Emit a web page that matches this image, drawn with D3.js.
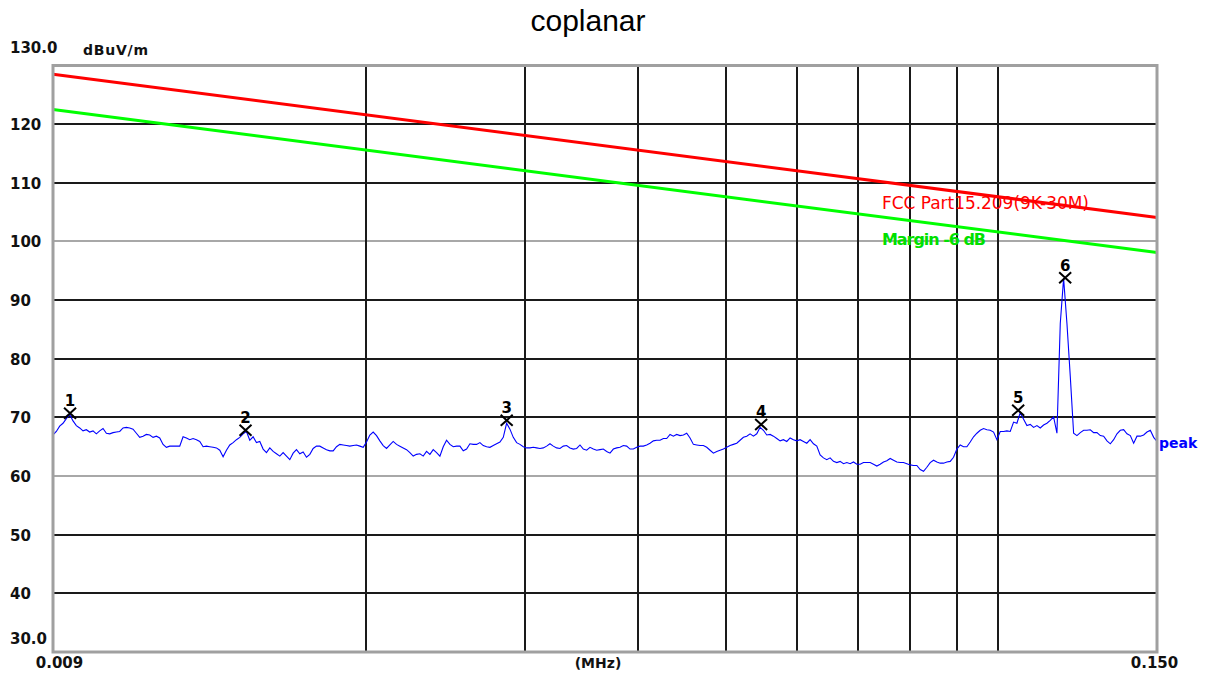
<!DOCTYPE html>
<html>
<head>
<meta charset="utf-8">
<script src="https://cdn.jsdelivr.net/npm/d3@7"></script>
<style>
body { margin: 0; background: #fff; }
svg { display: block; }
</style>
</head>
<body>
<div id="chart"></div>
<script>
// sweep of the receiver (MHz) and the peak trace (dBuV/m)
var sweepStart = 0.009, sweepStop = 0.150;
var peakLevels = [
    67.0, 67.6, 68.5, 69.0, 69.8, 70.5, 69.4, 68.6, 68.2, 67.7,
    67.9, 67.5, 67.7, 67.2, 67.7, 68.1, 67.3, 67.2, 67.4, 67.5,
    67.6, 68.2, 68.3, 68.2, 68.0, 67.3, 66.6, 66.8, 67.1, 67.0,
    66.6, 66.8, 66.5, 65.4, 64.9, 65.1, 65.1, 65.1, 65.1, 66.7,
    66.5, 66.2, 66.4, 66.2, 65.9, 65.0, 65.1, 65.0, 64.9, 64.8,
    64.4, 63.3, 64.4, 65.3, 65.7, 66.2, 66.6, 67.2, 67.6, 66.1,
    66.7, 65.7, 65.9, 64.6, 64.0, 64.8, 64.2, 63.8, 63.4, 64.0,
    63.4, 62.8, 63.9, 64.5, 63.8, 64.1, 63.2, 63.7, 64.7, 65.1,
    65.1, 64.8, 64.5, 64.3, 64.3, 65.0, 65.4, 65.3, 65.2, 65.1,
    65.2, 65.3, 65.1, 64.9, 65.8, 67.0, 67.5, 66.9, 66.0, 65.2,
    64.7, 65.3, 65.9, 65.4, 65.1, 64.8, 64.5, 64.0, 63.4, 63.7,
    63.8, 63.4, 64.2, 63.7, 64.5, 64.0, 63.4, 65.0, 66.1, 65.4,
    65.0, 65.1, 65.1, 64.3, 64.6, 65.5, 65.4, 65.4, 65.7, 65.2,
    65.0, 64.9, 65.2, 65.5, 65.8, 66.6, 69.0, 68.0, 66.6, 65.7,
    65.4, 65.0, 64.8, 64.8, 64.9, 64.8, 64.7, 64.8, 65.1, 65.5,
    65.1, 64.8, 64.7, 65.1, 65.2, 64.8, 64.6, 64.7, 65.3, 64.6,
    64.4, 64.9, 64.6, 64.4, 64.5, 64.6, 64.2, 63.9, 64.6, 64.8,
    64.9, 65.2, 65.1, 64.6, 64.6, 64.9, 65.1, 65.1, 65.3, 65.6,
    66.0, 66.1, 66.1, 66.4, 66.4, 67.1, 66.8, 67.1, 66.9, 67.0,
    67.3, 66.5, 65.4, 65.3, 65.2, 65.2, 64.9, 64.4, 63.9, 64.2,
    64.4, 64.6, 64.9, 65.2, 65.4, 65.6, 66.1, 66.6, 66.8, 67.2,
    66.8, 67.2, 68.3, 67.8, 67.0, 67.1, 66.8, 66.4, 66.0, 66.2,
    65.9, 66.5, 66.2, 66.0, 66.2, 65.9, 65.6, 66.2, 65.5, 65.1,
    63.6, 63.1, 62.8, 63.1, 62.5, 62.3, 62.5, 62.1, 62.3, 62.1,
    62.4, 62.0, 62.0, 62.3, 62.3, 62.3, 62.0, 61.7, 62.0, 62.4,
    62.6, 63.0, 62.7, 62.4, 62.3, 62.3, 62.1, 61.9, 61.8, 61.8,
    61.1, 60.8, 61.5, 62.3, 62.7, 62.4, 62.2, 62.2, 62.4, 62.5,
    63.2, 64.6, 65.3, 65.0, 65.0, 65.8, 66.7, 67.3, 67.8, 68.1,
    67.9, 67.8, 67.5, 66.2, 67.6, 67.6, 67.7, 67.6, 69.2, 69.0,
    70.8, 69.7, 68.6, 68.8, 68.3, 68.6, 68.2, 68.7, 69.0, 69.5,
    70.1, 67.3, 86.0, 93.7, 86.0, 77.0, 67.3, 66.9, 67.4, 67.8,
    67.8, 67.9, 67.4, 67.4, 66.9, 66.8, 66.0, 65.5, 66.2, 67.2,
    67.8, 67.9, 67.2, 66.9, 65.6, 66.8, 66.8, 67.0, 67.5, 67.8,
    66.6, 65.9
];

// markers
var markerNo = [1, 2, 3, 4, 5, 6];
var markerFreq = [0.0094, 0.0147, 0.0286, 0.0547, 0.1053, 0.1187];
var markerLevel = [70.7, 67.8, 69.5, 68.8, 71.2, 93.8];

// limit lines
var limitFreq = [0.009, 0.150];
var fccLimit = [128.5, 104.1];
var marginLimit = [122.5, 98.1];

// axes
var yTicks = [130, 120, 110, 100, 90, 80, 70, 60, 50, 40, 30];
var grayLines = [100, 60];
var gridFreqs = [0.02, 0.03, 0.04, 0.05, 0.06, 0.07, 0.08, 0.09, 0.1];
var xTicks = [0.009, 0.150];

var width = 1208, height = 675;
var plot = {left: 53, right: 1157, top: 65.5, bottom: 652};

var svg = d3.select("#chart").append("svg")
    .attr("width", width)
    .attr("height", height);

var x = d3.scaleLog().domain([sweepStart, sweepStop]).range([plot.left, plot.right]);
var y = d3.scaleLinear().domain([30, 130]).range([plot.bottom, plot.top]);

// title
svg.append("text")
    .attr("x", 588).attr("y", 31)
    .attr("text-anchor", "middle")
    .style("font-family", "'Liberation Sans', Arial, sans-serif")
    .style("font-size", "30px")
    .text("coplanar");

// horizontal grid
svg.append("g").selectAll("line")
    .data(yTicks.filter(function(d){ return d > 30 && d < 130; }))
    .enter().append("line")
    .attr("x1", plot.left).attr("x2", plot.right)
    .attr("y1", function(d){ return Math.round(y(d)); })
    .attr("y2", function(d){ return Math.round(y(d)); })
    .attr("stroke", function(d){ return grayLines.indexOf(d) >= 0 ? "#a8a8a8" : "#1a1a1a"; })
    .attr("stroke-width", 2);

// vertical grid
svg.append("g").selectAll("line")
    .data(gridFreqs)
    .enter().append("line")
    .attr("x1", function(d){ return Math.round(x(d)); })
    .attr("x2", function(d){ return Math.round(x(d)); })
    .attr("y1", plot.top).attr("y2", plot.bottom)
    .attr("stroke", "#1a1a1a")
    .attr("stroke-width", 2);

// y axis labels
var yAxis = svg.append("g")
    .attr("transform", "translate(" + plot.left + ",0)")
    .call(d3.axisLeft(y).tickValues(yTicks).tickSize(0)
        .tickFormat(function(d){ return (d == 130 || d == 30) ? d.toFixed(1) : d; }));
yAxis.select(".domain").remove();
yAxis.selectAll("text")
    .attr("x", 10 - plot.left)
    .attr("dy", function(d){ return d == 130 ? "-0.9em" : (d == 30 ? "-0.55em" : "0.36em"); })
    .style("text-anchor", "start")
    .style("font-family", "'DejaVu Sans', sans-serif")
    .style("font-weight", "bold")
    .style("font-size", "15px")
    .attr("fill", "#111");

svg.append("text")
    .attr("x", 83).attr("y", 55)
    .style("font-family", "'DejaVu Sans', sans-serif")
    .style("font-weight", "bold")
    .style("font-size", "14px")
    .attr("textLength", 65)
    .attr("fill", "#111")
    .text("dBuV/m");

// x axis labels
var xAxis = svg.append("g")
    .attr("transform", "translate(0," + plot.bottom + ")")
    .call(d3.axisBottom(x).tickValues(xTicks).tickSize(0).tickFormat(d3.format(".3f")));
xAxis.select(".domain").remove();
xAxis.selectAll("text")
    .attr("y", 16).attr("dy", 0)
    .attr("dx", function(d){ return d < 0.01 ? 6 : -3; })
    .style("font-family", "'DejaVu Sans', sans-serif")
    .style("font-weight", "bold")
    .style("font-size", "15px")
    .attr("fill", "#111");

svg.append("text")
    .attr("x", 598).attr("y", 668)
    .attr("text-anchor", "middle")
    .style("font-family", "'DejaVu Sans', sans-serif")
    .style("font-weight", "bold")
    .style("font-size", "14px")
    .attr("fill", "#111")
    .text("(MHz)");

// limit lines
var limLine = d3.line()
    .x(function(d){ return x(d[0]); })
    .y(function(d){ return y(d[1]); });

svg.append("path")
    .attr("d", limLine(d3.zip(limitFreq, fccLimit)))
    .attr("fill", "none").attr("stroke", "#ff0000").attr("stroke-width", 3);
svg.append("path")
    .attr("d", limLine(d3.zip(limitFreq, marginLimit)))
    .attr("fill", "none").attr("stroke", "#00ff00").attr("stroke-width", 3);

svg.append("text")
    .attr("x", 882).attr("y", 209)
    .attr("textLength", 207)
    .style("font-family", "'DejaVu Sans', sans-serif")
    .style("font-size", "17px")
    .attr("fill", "#ff0000")
    .text("FCC Part15.209(9K-30M)");
svg.append("text")
    .attr("x", 882).attr("y", 245)
    .attr("textLength", 104)
    .style("font-family", "'DejaVu Sans', sans-serif")
    .style("font-size", "16px")
    .style("font-weight", "bold")
    .attr("fill", "#00e000")
    .text("Margin -6 dB");

// peak trace
var n = peakLevels.length;
var trace = peakLevels.map(function(v, i){
    return [sweepStart * Math.pow(sweepStop / sweepStart, i / (n - 1)), v];
});
svg.append("path")
    .attr("d", limLine(trace))
    .attr("fill", "none").attr("stroke", "#0000ff").attr("stroke-width", 1.1);

svg.append("text")
    .attr("x", 1159).attr("y", 448)
    .style("font-family", "'DejaVu Sans', sans-serif")
    .style("font-weight", "bold")
    .style("font-size", "14px")
    .attr("fill", "#0000ff")
    .text("peak");

// markers
var mk = svg.append("g").selectAll("g")
    .data(markerNo)
    .enter().append("g")
    .attr("transform", function(d, i){
        return "translate(" + x(markerFreq[i]) + "," + y(markerLevel[i]) + ")";
    });
mk.append("path")
    .attr("d", "M-6,-5.5L6,5.5M-6,5.5L6,-5.5")
    .attr("stroke", "#000").attr("stroke-width", 2);
mk.append("text")
    .attr("y", -7)
    .attr("text-anchor", "middle")
    .style("font-family", "'DejaVu Sans', sans-serif")
    .style("font-weight", "bold")
    .style("font-size", "15px")
    .text(function(d){ return d; });

// plot border
svg.append("rect")
    .attr("x", plot.left).attr("y", plot.top)
    .attr("width", plot.right - plot.left)
    .attr("height", plot.bottom - plot.top)
    .attr("fill", "none")
    .attr("stroke", "#a0a0a0")
    .attr("stroke-width", 3);
</script>
</body>
</html>
